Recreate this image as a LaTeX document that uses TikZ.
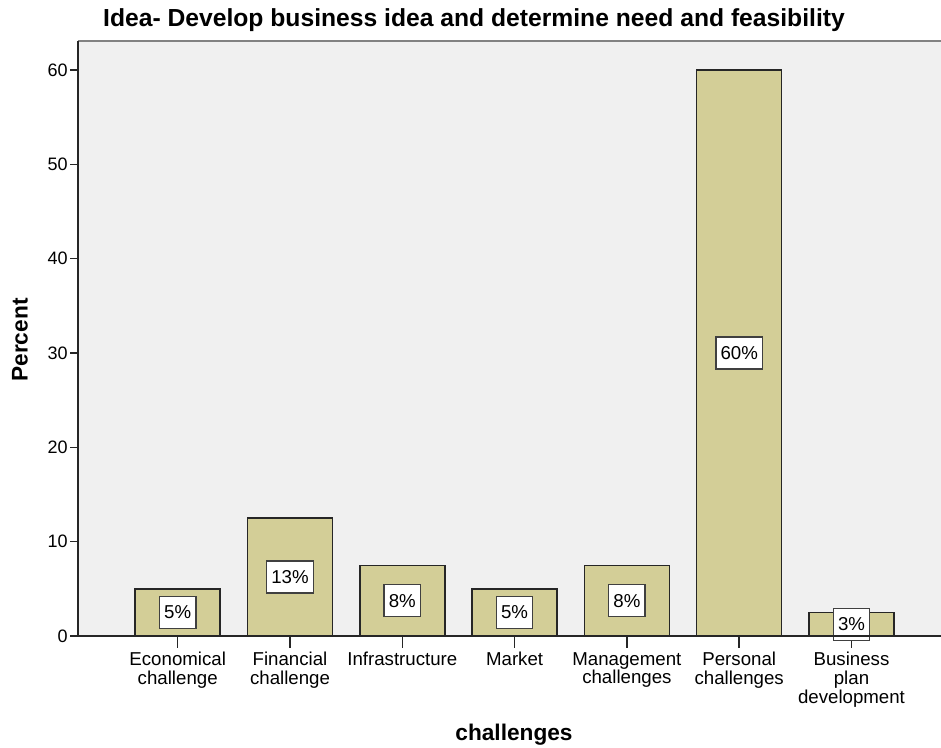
\documentclass[tikz,border=0pt]{standalone}
\usepackage{fontspec}
\setmainfont{Liberation Sans}
\usetikzlibrary{calc}
\definecolor{barFill}{RGB}{211,206,151}
\definecolor{plotBg}{RGB}{240,240,240}
\definecolor{frameGray}{RGB}{130,130,130}
\tikzset{
	axisLine/.style={draw=black!85, line width=1.1pt},
	barBox/.style={draw=black!85, fill=barFill, line width=1.1pt},
	pctLabel/.style={draw=black!75, fill=white, line width=1pt, inner xsep=3.5pt, minimum height=24pt, font=\fontsize{14}{14}\selectfont},
	catLabel/.style={anchor=north, align=center, inner sep=0pt, font=\fontsize{14}{14}\selectfont},
	tickLabel/.style={anchor=east, inner sep=0pt, font=\fontsize{13.5}{14}\selectfont}
}
% one bar: base coordinate, name, value, percent text, category text
\newcommand{\drawBar}[5]{
	\draw[axisLine] (#1) -- ++(0,-12);
	\draw[barBox] ($(#1)+(-42.5,0)$) rectangle ($(#1)+(42.5,#3*9.433)$);
	\node[pctLabel] (#2Pct) at ($(#1)+(0,#3*9.433/2)$) {#4};
	\node[catLabel] (#2Cat) at ($(#1)+(0,-16)$) {#5};
}
\newcommand{\drawTick}[2]{
	\draw[axisLine] ($(origin)+(0,#1*9.433)$) -- ++(-8,0);
	\node[tickLabel] (#2) at ($(origin)+(-10,#1*9.433)$) {#1};
}

\begin{document}
\begin{tikzpicture}[x=0.75pt, y=0.75pt]
		\useasboundingbox (0,0) rectangle (941,747);
		\coordinate (origin) at (78,111);
		\coordinate (plotTR) at (941,706);
		\coordinate (B1) at (177.7,111);
		\coordinate (B2) at (290,111);
		\coordinate (B3) at (402.3,111);
		\coordinate (B4) at (514.6,111);
		\coordinate (B5) at (626.9,111);
		\coordinate (B6) at (739.2,111);
		\coordinate (B7) at (851.5,111);

		\fill[plotBg] (origin) rectangle (plotTR);
		\draw[frameGray, line width=1.5pt] (origin |- plotTR) -- (plotTR);

		\drawBar{B1}{econ}{5}{5\%}{Economical\\challenge}
		\drawBar{B2}{fin}{12.5}{13\%}{Financial\\challenge}
		\drawBar{B3}{infra}{7.5}{8\%}{Infrastructure}
		\drawBar{B4}{market}{5}{5\%}{Market}
		\drawBar{B5}{mgmt}{7.5}{8\%}{Management\\challenges}
		\drawBar{B6}{pers}{60}{60\%}{Personal\\challenges}
		\drawBar{B7}{plan}{2.5}{3\%}{Business\\plan\\development}

		\draw[axisLine] (origin) -- (origin -| plotTR);
		\draw[axisLine] (origin) -- (origin |- plotTR);
		\drawTick{0}{t0}
		\drawTick{10}{t10}
		\drawTick{20}{t20}
		\drawTick{30}{t30}
		\drawTick{40}{t40}
		\drawTick{50}{t50}
		\drawTick{60}{t60}

		\node[font=\fontsize{18.5}{20}\selectfont\bfseries] (title) at (474,727) {Idea- Develop business idea and determine need and feasibility};
		\node[font=\fontsize{17}{18}\selectfont\bfseries, rotate=90] (yTitle) at (20,407) {Percent};
		\node[font=\fontsize{17}{18}\selectfont\bfseries] (xTitle) at (514,12) {challenges};
	\end{tikzpicture}
\end{document}
